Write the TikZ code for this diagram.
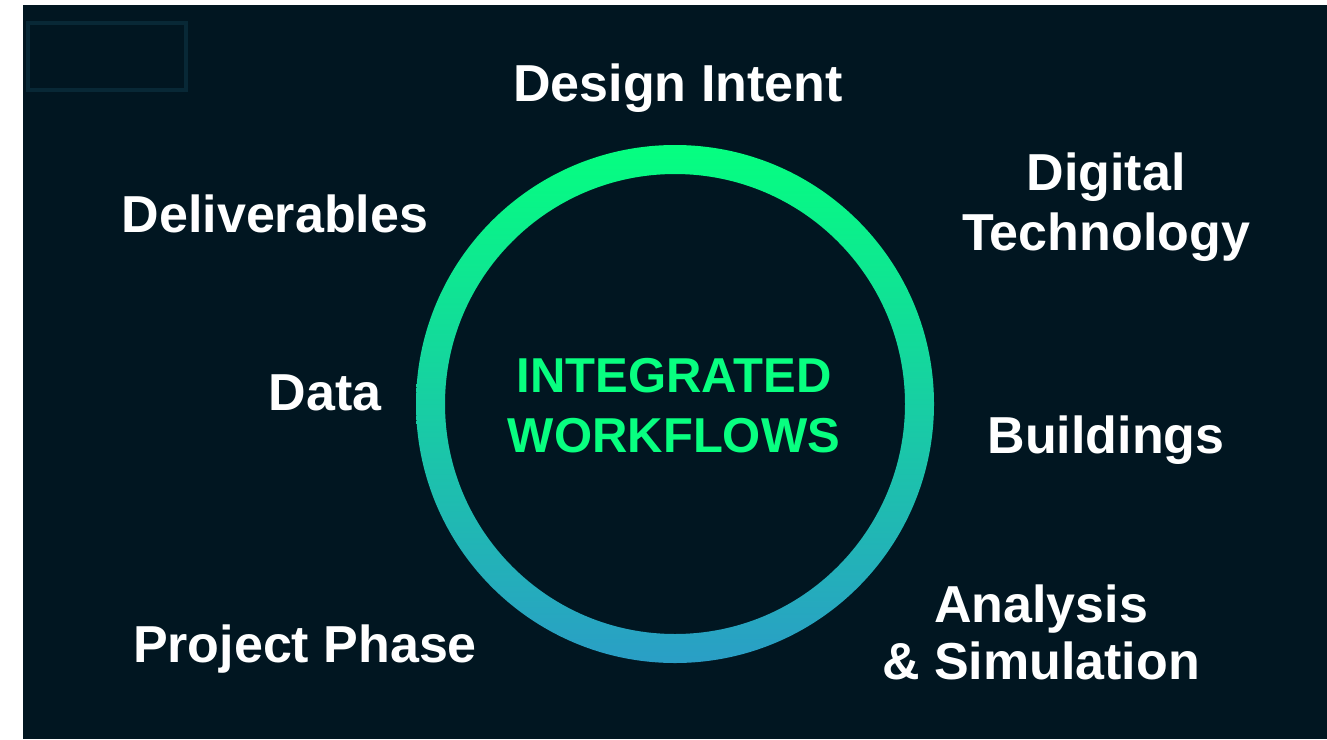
\documentclass[tikz,border=0pt]{standalone}
\usepackage{fontspec}
\setmainfont{Liberation Sans}
\usetikzlibrary{shadings}
\definecolor{bgnavy}{RGB}{1,22,33}
\definecolor{boxedge}{RGB}{8,40,54}
\definecolor{ringtop}{RGB}{5,255,128}
\definecolor{ringmid}{RGB}{28,214,158}
\definecolor{ringbot}{RGB}{42,158,198}
\definecolor{labelgreen}{RGB}{8,255,128}
\tikzset{
  topic/.style={anchor=base,text=white,align=center,inner sep=0pt,
    font=\fontsize{52}{60}\selectfont\bfseries},
  hub/.style={anchor=base,text=labelgreen,align=center,inner sep=0pt,
    font=\fontsize{49}{60}\selectfont\bfseries}
}
\begin{document}
\begin{tikzpicture}[line cap=round,line join=round,x=1pt,y=-1pt]
\useasboundingbox (0,0) rectangle (1327,739);
\fill[bgnavy] (23,5) rectangle (1327,739);
\draw[line width=4pt,color=boxedge,line cap=butt,line join=miter] (28,23) rectangle (186,90);
% ring
\coordinate (c) at (675,404);
\shade[top color=ringtop,middle color=ringmid,bottom color=ringbot,even odd rule]
  (c) circle (259) (c) circle (230);
% centre text
\node[hub] (hubA) at (674,392) {INTEGRATED};
\node[hub] (hubB) at (674,452) {WORKFLOWS};
% topics round the ring (base of last line)
\node[topic] (design) at (678,101) {Design Intent};
\node[topic] (digital) at (1106,250) {Digital\\Technology};
\node[topic] (deliv) at (275,232) {Deliverables};
\node[topic] (data) at (325,410) {Data};
\node[topic] (build) at (1106,453) {Buildings};
\node[topic,font=\fontsize{52}{57}\selectfont\bfseries] (analysis) at (1041,679) {Analysis\\\& Simulation};
\node[topic] (phase) at (305,662) {Project Phase};
\end{tikzpicture}
\end{document}
